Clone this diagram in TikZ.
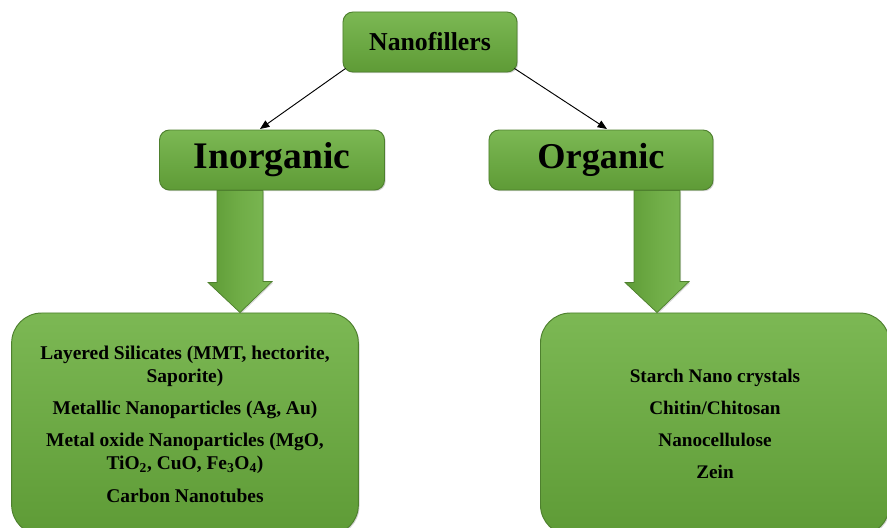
\documentclass[tikz,border=0pt]{standalone}
\usepackage{fontspec}
\setmainfont{Liberation Serif}
\usetikzlibrary{shadows,arrows.meta}
\definecolor{leafgreen}{RGB}{112,173,71}
\definecolor{leaftop}{RGB}{124,184,84}
\definecolor{leafbot}{RGB}{94,155,54}
\definecolor{leafedge}{RGB}{78,128,46}
\tikzset{
  greenbox/.style={draw=leafedge, line width=0.8pt, top color=leaftop, bottom color=leafbot,
    drop shadow={shadow xshift=1pt, shadow yshift=-1pt, opacity=0.35},
    text=black, font=\bfseries, align=center, inner sep=0pt},
  headbox/.style={greenbox, rounded corners=0.3cm, minimum height=1.8cm},
  listbox/.style={greenbox, rounded corners=0.9cm, minimum width=10.4cm, minimum height=6.66cm},
  blockarrow/.style={draw=leafedge, line width=0.6pt, left color=leafbot, right color=leaftop, middle color=leafgreen,
    drop shadow={shadow xshift=1pt, shadow yshift=-1pt, opacity=0.3}},
  link/.style={-{Triangle[length=8pt,width=6.5pt]}, line width=0.8pt}
}
\begin{document}
\begin{tikzpicture}[x=0.03cm, y=-0.03cm]
  \clip (0,0) rectangle (887,528);
  \useasboundingbox (0,0) rectangle (887,528);
  % top level
  \node[headbox, minimum width=5.22cm, font=\bfseries\fontsize{22}{26}\selectfont] (nano) at (430,42) {Nanofillers};
  \node[headbox, minimum width=6.75cm, font=\bfseries\fontsize{32}{36}\selectfont] (inorg) at (272,160) {Inorganic};
  \node[headbox, minimum width=6.72cm, font=\bfseries\fontsize{31}{36}\selectfont] (org) at (601,160) {Organic};
  % lists
  \node[listbox, font=\bfseries\fontsize{16.6}{19.6}\selectfont] (inlist) at (185,424) {%
    Layered Silicates (MMT, hectorite,\\ Saporite)\\[8pt]
    Metallic Nanoparticles (Ag, Au)\\[8pt]
    Metal oxide Nanoparticles (MgO,\\ TiO\textsubscript{2}, CuO, Fe\textsubscript{3}O\textsubscript{4})\\[8pt]
    Carbon Nanotubes};
  \node[listbox, minimum width=10.47cm, font=\bfseries\fontsize{16.4}{19.6}\selectfont] (orglist) at (715,424) {%
    Starch Nano crystals\\[7.8pt]
    Chitin/Chitosan\\[7.8pt]
    Nanocellulose\\[7.8pt]
    Zein};
  % connectors
  \coordinate (inorgtop) at (260,129);
  \coordinate (orgtop) at (607,129);
  \draw[link] ([shift={(3,-4)}]nano.south west) -- (inorgtop);
  \draw[link] ([shift={(-3,-4)}]nano.south east) -- (orgtop);
  % block arrows
  \foreach \hd/\lst/\xl/\xm/\xr in {inorg/inlist/217/240/263, org/orglist/634/657/680}{
    \draw[blockarrow] (\hd.south -| \xl,0) -- ++(0,92) -- ++(-9,0)
      -- (\lst.north -| \xm,0) -- ++(32,-31) -- ++(-9,0) -- (\hd.south -| \xr,0) -- cycle;
  }
\end{tikzpicture}
\end{document}
